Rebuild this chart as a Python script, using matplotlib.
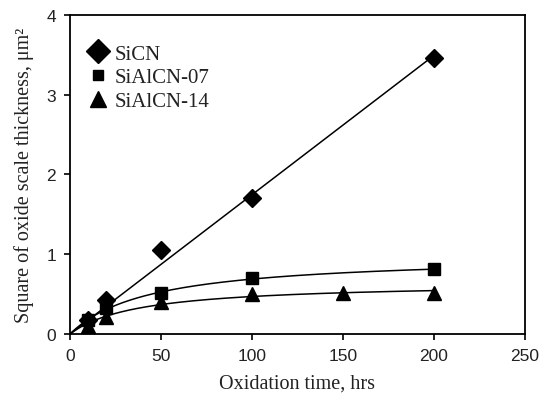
import numpy as np
import matplotlib.pyplot as plt

# data
t_sicn = [10, 20, 50, 100, 200]
y_sicn = [0.17, 0.42, 1.05, 1.71, 3.46]

t_07 = [10, 20, 50, 100, 200]
y_07 = [0.17, 0.33, 0.51, 0.70, 0.81]

t_14 = [10, 20, 50, 100, 150, 200]
y_14 = [0.10, 0.21, 0.40, 0.50, 0.52, 0.51]

SERIF = ['Liberation Serif', 'DejaVu Serif']
SANS = ['Liberation Sans', 'DejaVu Sans']


def fit_hyperbolic(t, y):
    # y = a * t / (b + t), grid over b, closed form for a
    t = np.asarray(t, float)
    y = np.asarray(y, float)
    best = None
    for b in np.linspace(1, 200, 2000):
        g = t / (b + t)
        a = np.dot(g, y) / np.dot(g, g)
        err = np.sum((a * g - y) ** 2)
        if best is None or err < best[0]:
            best = (err, a, b)
    return best[1], best[2]


fig = plt.figure(figsize=(5.41, 4.06), dpi=100)
ax = fig.add_axes([0.1294, 0.1749, 0.841, 0.7857])

tt = np.linspace(0, 200, 300)

# SiCN: straight line through origin
k = np.dot(t_sicn, y_sicn) / np.dot(t_sicn, t_sicn)
ax.plot(tt, k * tt, color='black', lw=1.1)
for t, y in [(t_07, y_07), (t_14, y_14)]:
    a, b = fit_hyperbolic(t, y)
    ax.plot(tt, a * tt / (b + tt), color='black', lw=1.1)

ax.plot(t_sicn, y_sicn, 'D', color='black', ms=9, ls='none', label='SiCN')
ax.plot(t_07, y_07, 's', color='black', ms=8.5, ls='none', label='SiAlCN-07')
ax.plot(t_14, y_14, '^', color='black', ms=10, ls='none', label='SiAlCN-14')

ax.set_xlim(0, 250)
ax.set_ylim(0, 4)
ax.set_xticks([0, 50, 100, 150, 200, 250])
ax.set_yticks([0, 1, 2, 3, 4])
ax.tick_params(direction='out', length=4, width=1.2, labelsize=12.5, pad=6)
for lab in ax.get_xticklabels() + ax.get_yticklabels():
    lab.set_family(SANS)
    lab.set_color('#222222')
for s in ax.spines.values():
    s.set_linewidth(1.3)

ax.set_xlabel('Oxidation time, hrs', family=SERIF, fontsize=14.5, color='#222222', labelpad=8)
ax.set_ylabel('Square of oxide scale thickness, μm²', family=SERIF, fontsize=14.5,
              color='#222222', labelpad=9)

leg = ax.legend(loc='upper left', frameon=False, prop={'family': SERIF, 'size': 15},
                handlelength=1.0, handletextpad=0.3, labelspacing=0.2,
                borderaxespad=0.0, bbox_to_anchor=(0.02, 0.935))
for txt in leg.get_texts():
    txt.set_color('#222222')
for h, ms in zip(leg.legend_handles, [12, 7.5, 12]):
    h.set_markersize(ms)

fig.savefig('out.png', dpi=100)
